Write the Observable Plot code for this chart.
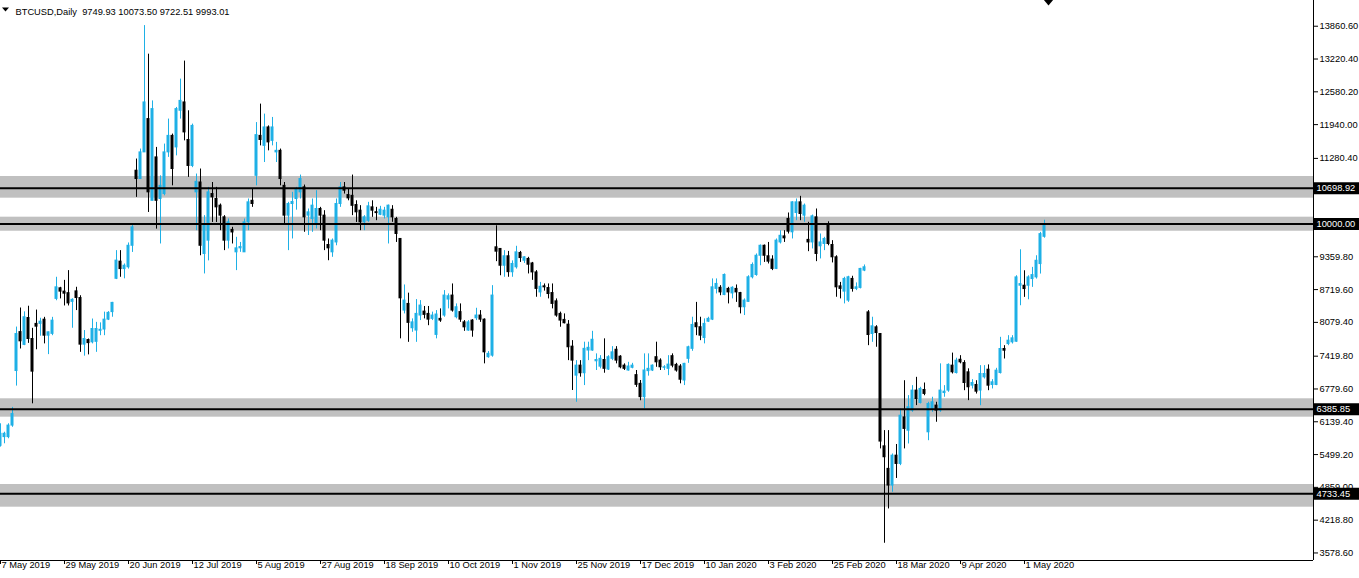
<!DOCTYPE html>
<html><head><meta charset="utf-8">
<script src="https://cdn.jsdelivr.net/npm/d3@7"></script>
<script src="https://cdn.jsdelivr.net/npm/@observablehq/plot@0.6"></script>
<style>html,body{margin:0;padding:0;background:#fff;overflow:hidden}</style>
</head><body><div id="chart"></div>
<script>
// ---- data (daily weekday bars, 7 May 2019 .. 8 May 2020) ----
const symbolName = "BTCUSD,Daily";
const headerOHLC = [9749.93, 10073.50, 9722.51, 9993.01];

const opens = [5670,5840,5840,6065,7130,7890,7640,8165,7755,8050,8050,8132,7820,7855,8538,8745,8680,8650,8480,8685,
8555,7645,7735,7690,7700,7915,7940,8133,8280,8930,9265,9120,9155,9575,11040,10878,11398,12048,10453,11300,
10488,10585,11398,11720,11495,12210,12373,11640,11133,10618,10810,9415,9675,10585,10488,10358,10130,9675,9885,9447,
9525,9447,10033,10453,10940,11720,11525,11885,11623,11398,11428,10745,10163,10390,10488,10618,10715,10163,10098,10000,
10293,10163,9590,9447,9640,10390,10715,10565,10550,10370,10260,10033,10063,10325,10230,10180,10163,10130,10278,10098,
9708,8310,8440,7965,7920,8213,8290,8245,8148,7835,8148,8213,8525,8603,8180,8280,8080,7920,8115,8160,
8213,8133,7400,7430,9545,9513,9185,9370,9058,9155,9435,9283,9318,9230,9055,8665,8783,8750,8652,8490,
8245,8128,8035,7606,7040,7235,7087,7530,7530,7320,7215,7345,7158,7368,7545,7410,7235,7140,7193,7050,
6880,6620,7128,7140,7400,7333,7193,7173,7420,7250,7218,6945,7368,7563,8063,7985,7775,8093,8133,8733,
8755,8615,8733,8645,8733,8652,8375,8480,8960,9005,9380,9575,9370,9305,9123,9640,9758,10098,9838,10215,
10423,10163,9690,9640,10130,9565,9610,9965,9590,9350,8783,8680,8505,8928,8733,8752,9090,8275,7853,7983,
7853,5660,5220,4894,5478,5316,6225,5965,6357,6748,6506,6760,5934,6390,6455,6357,6700,6748,7235,7091,
7350,7286,7105,6844,6858,6748,7007,7156,6858,6858,7091,7560,7657,7690,7702,8795,8795,8795,8925,8958,
9218,9749.93];

const highs = [6100,5935,6100,6420,7988,8360,8285,8395,7964,8320,8160,8178,7890,8178,8960,8764,8900,9090,8540,8765,
8600,7920,7755,8145,8080,8070,8280,8290,8470,9480,9480,9220,9630,9980,11268,11463,13873,13315,12403,11495,
10940,11560,12048,11755,12275,12828,13180,12210,11950,10975,11073,10163,10715,10810,10715,10390,10163,10098,9935,9740,
9640,10098,10488,10683,11980,12340,12145,11915,12080,11593,11463,10810,10423,10618,10715,10955,10760,10293,10488,10650,
10325,10260,9708,9708,10488,10810,10810,10683,10955,10453,10358,10163,10423,10453,10325,10345,10325,10370,10358,10130,
9708,8810,8650,8148,8525,8505,8390,8390,8280,8310,8343,8700,8635,8830,8440,8440,8115,8115,8133,8355,
8310,8148,7510,8797,9965,9513,9480,9465,9280,9565,9465,9360,9350,9250,9090,8860,8830,8830,8830,8538,
8280,8245,8115,7724,7333,7333,7693,7693,7905,7465,7430,7758,7430,7606,7606,7430,7270,7300,7280,7140,
6945,7465,7465,7250,7693,7368,7235,7430,7465,7280,7255,7280,7615,8180,8470,8180,8148,8180,8928,8928,
8797,9025,8764,8775,8810,8665,8538,8990,9240,9415,9590,9590,9640,9380,9708,9870,9870,10215,10435,10488,
10540,10390,10033,10175,10293,9805,9740,10043,9675,9380,8860,8960,8980,8980,8850,9135,9200,8310,8180,8015,
7853,5967,5967,5511,5696,6390,6941,6650,6845,7007,6813,6896,6520,6618,6520,7270,6845,7270,7480,7380,
7430,7332,7173,6962,6941,7235,7235,7250,6962,7183,7788,7625,7820,7820,8990,9497,9087,8990,9153,9380,
9836,10073.50];

const lows = [5645,5710,5808,6032,6836,7560,7625,7670,6490,7545,7810,7660,7450,7820,8502,8538,8400,8400,7965,8310,
7495,7420,7445,7660,7495,7820,7820,8115,8180,8915,8960,8930,9120,9445,10520,10878,11398,10225,10453,9900,
9610,10550,11300,10745,11330,12048,11623,10910,11100,9870,9380,9025,9280,10030,10030,9870,9480,9513,9610,9090,
9447,9447,9870,10325,10745,11525,11200,11428,11525,11200,10745,10000,9480,9708,10270,10488,9838,9775,9838,9903,
9870,9480,9283,9350,9575,10325,10585,10453,10163,10030,9870,9870,10033,10130,10065,10163,10098,9610,10033,9640,
7758,8245,7690,7886,7690,8115,8148,8015,8115,7758,8080,8180,8343,8280,8148,8080,7905,7905,7790,8115,
8080,7270,7380,7400,9265,8990,8960,8960,8960,9120,9250,9230,9025,8900,8570,8570,8690,8538,8343,8180,
7985,8050,7333,6750,6520,7010,6846,7333,7515,7140,7173,7087,7140,7333,7270,7173,7140,7128,7173,6810,
6550,6393,7030,7120,7203,7140,7140,7040,7193,7108,6880,6846,7280,7515,7820,7723,7660,8080,8115,8635,
8600,8600,8440,8538,8470,8245,8213,8470,8928,8980,9185,9250,9220,9090,9110,9610,9640,9805,9708,10065,
10065,10033,9460,9513,9265,9318,9480,9575,9240,8570,8538,8440,8470,8670,8700,8733,9070,7625,7690,7594,
5610,3768,4438,4763,5033,5283,5610,5706,6325,6455,6487,6648,5770,6325,6130,6325,6618,6715,7072,7072,
7270,6746,6552,6780,6681,6453,6974,6746,6780,6844,7072,7365,7625,7657,7690,8404,8568,8521,8763,8925,
9023,9722.51];

const closes = [5905,5905,6065,6290,7852,7710,8180,7755,7118,7996,8093,7820,7886,8113,8764,8680,8640,8450,8520,8555,
7645,7755,7675,7950,7950,7935,8133,8265,8460,9285,9120,9185,9575,9935,10878,11398,12373,10618,12243,10453,
10745,11398,11720,11073,12243,12403,11788,11133,11915,10823,9575,10000,10618,10520,10325,10163,9675,10033,9835,9525,
9550,10033,10423,10390,11735,11640,11885,11593,11885,11428,10878,10163,10390,10430,10683,10878,10130,10228,10358,10293,
10163,9675,9525,9675,10390,10715,10650,10500,10355,10228,10033,10130,10345,10260,10213,10278,10260,10358,10130,9805,
8549,8505,8070,8080,8245,8408,8226,8133,8213,8233,8115,8603,8590,8310,8375,8133,7983,8080,7920,8213,
8133,7495,7465,8603,9460,9185,9370,9060,9220,9447,9335,9350,9205,9055,8733,8775,8764,8633,8440,8213,
8115,8063,7594,7333,7235,7087,7563,7583,7740,7345,7368,7173,7400,7495,7333,7203,7173,7218,7235,6860,
6620,7140,7173,7235,7300,7203,7203,7255,7235,7140,6960,7270,7594,8030,7985,7820,8050,8148,8764,8830,
8665,9005,8665,8755,8665,8375,8505,8960,9200,9380,9575,9380,9265,9123,9675,9770,9720,9850,10423,10423,
10195,10358,9640,10150,9415,9640,9708,9610,9350,8764,8733,8928,8960,8733,8764,9123,9155,7833,8003,7872,
5753,5447,4894,5478,5316,6258,6000,6423,6748,6584,6780,6683,6487,6520,6357,6748,6727,7250,7105,7332,
7300,6896,6813,6896,6727,7072,7072,6844,6910,7137,7560,7527,7722,7768,8958,8827,8730,8958,9003,9282,
9803,9993.01];

const dateLabels = ["7 May 2019","29 May 2019","20 Jun 2019","12 Jul 2019","5 Aug 2019","27 Aug 2019",
"18 Sep 2019","10 Oct 2019","1 Nov 2019","25 Nov 2019","17 Dec 2019","10 Jan 2020","3 Feb 2020",
"25 Feb 2020","18 Mar 2020","9 Apr 2020","1 May 2020"];
const barsPerLabel = 16;

const yTickValues = [13860.60,13220.40,12580.20,11940.00,11280.40,10640.20,9359.80,8719.60,8079.40,
7419.80,6779.60,6139.40,5499.20,4859.00,4218.80,3578.60];

// horizontal levels and their grey zones
const levels = [10698.92, 10000.00, 6385.85, 4733.45];
const zoneLow = [10504, 9859, 6229, 4472];
const zoneHigh = [10927, 10133, 6588, 4915];

// ---- build ----
const bullColor = "#1eb0e6", bearColor = "#000000", zoneColor = "#c0c0c0";
const candles = opens.map((o, i) => ({i, o, h: highs[i], l: lows[i], c: closes[i]}));
const up = candles.filter(d => d.c >= d.o);
const down = candles.filter(d => d.c < d.o);
const zones = levels.map((v, k) => ({v, lo: zoneLow[k], hi: zoneHigh[k]}));
const tickIdx = dateLabels.map((_, k) => k * barsPerLabel);
const xDomain = [0, 328.25];
const yDomain = [3431.5, 14362.7];
const shiftIdx = opens.length;
const headerText = symbolName + "\u00a0 " + headerOHLC.map(v => v.toFixed(2)).join(" ");

// small down-pointing triangle symbol (chart shift marker / header marker)
const downTriangle = (w, h) => ({draw(ctx) { ctx.moveTo(-w / 2, -h / 2); ctx.lineTo(w / 2, -h / 2); ctx.lineTo(0, h / 2); ctx.closePath(); }});

const bodyOpts = (fill) => ({x1: d => d.i - 0.375, x2: d => d.i + 0.375, y1: "o", y2: "c", fill, insetTop: -0.5, insetBottom: -0.5});

const chart = Plot.plot({
  width: 1359, height: 578,
  marginLeft: 0, marginRight: 46, marginTop: 0, marginBottom: 18,
  style: {fontFamily: "'Liberation Sans', Arial, sans-serif", fontSize: "9.3px", background: "#fff", color: "#000", overflow: "visible"},
  x: {type: "linear", domain: xDomain, axis: "bottom", ticks: tickIdx, tickFormat: () => "", tickSize: 4, label: null},
  y: {type: "linear", domain: yDomain, axis: "right", ticks: yTickValues, tickFormat: d => d.toFixed(2), tickSize: 4, tickPadding: 2, label: null},
  marks: [
    Plot.rect(zones, {x1: () => xDomain[0], x2: () => xDomain[1], y1: "lo", y2: "hi", fill: zoneColor}),
    Plot.ruleX(up, {x: "i", y1: "l", y2: "h", stroke: bullColor}),
    Plot.ruleX(down, {x: "i", y1: "l", y2: "h", stroke: bearColor}),
    Plot.rect(up, bodyOpts(bullColor)),
    Plot.rect(down, bodyOpts(bearColor)),
    Plot.ruleY(zones, {y: "v", stroke: "#000", strokeWidth: 2}),
    Plot.ruleX([xDomain[1]], {stroke: "#000"}),
    Plot.ruleY([yDomain[0]], {stroke: "#000"}),
    Plot.ruleY(zones, {y: "v", x1: () => xDomain[1] + 0.25, x2: () => xDomain[1] + 12, stroke: "#000", strokeWidth: 12}),
    Plot.text(zones, {y: "v", x: () => xDomain[1], text: d => d.v.toFixed(2), fill: "#fff", textAnchor: "start", dx: 3}),
    Plot.text(tickIdx, {x: d => d, text: (d, k) => dateLabels[k], frameAnchor: "bottom", textAnchor: "start", dx: 1, dy: 7}),
    Plot.text([headerText], {text: d => d, frameAnchor: "top-left", textAnchor: "start", dx: 15, dy: 8}),
    Plot.dot([0], {frameAnchor: "top-left", dx: 5, dy: 9, symbol: downTriangle(7, 4), r: 3, fill: "#000", stroke: null}),
    Plot.dot([shiftIdx], {x: d => d, frameAnchor: "top", dy: 2, symbol: downTriangle(10, 6), r: 4, fill: "#000", stroke: null})
  ]
});
document.getElementById("chart").appendChild(chart);
</script>
</body></html>
